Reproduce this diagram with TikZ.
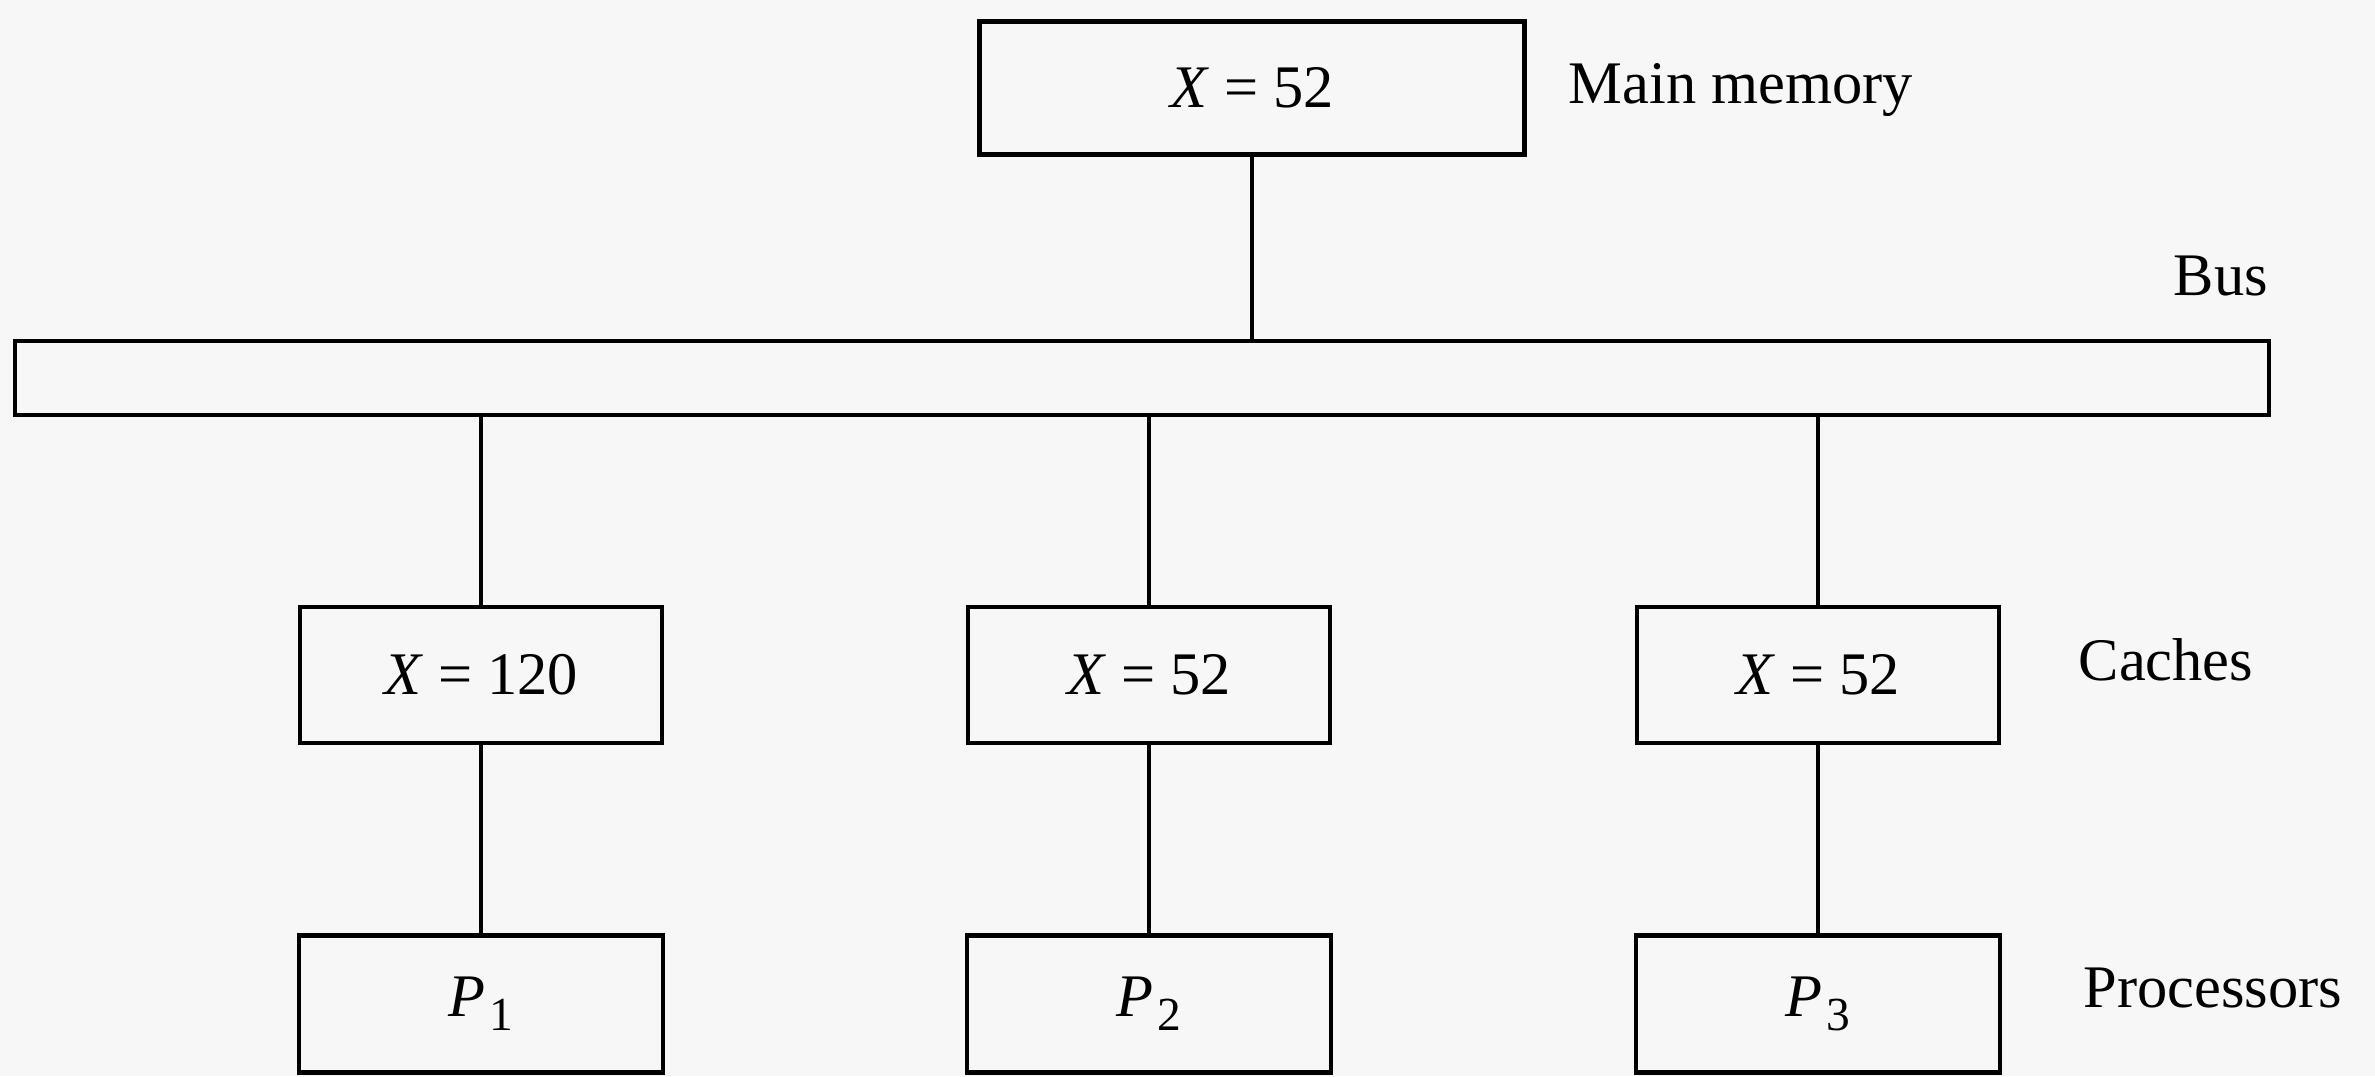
\documentclass[tikz,border=0pt]{standalone}
\usepackage{fontspec}
\setmainfont{Liberation Serif}
\usepackage{tikz}

\newcommand{\procname}[1]{\textit{P}\kern1pt\raisebox{-0.5ex}{\fontsize{13.5}{15}\selectfont #1}}

\begin{document}
\begin{tikzpicture}[
  box/.style={draw=black, line width=1.4pt, align=center, inner sep=0pt,
              font=\fontsize{17.2}{20}\selectfont},
  cachebox/.style={box, minimum width=3.62cm, minimum height=1.36cm},
  procbox/.style={box, minimum width=3.64cm, minimum height=1.37cm},
  lbl/.style={anchor=base west, inner sep=0pt, font=\fontsize{17.2}{20}\selectfont},
  wire/.style={line width=1.1pt, draw=black}
]
  % Page
  \fill[black!3] (0,0) rectangle (23.75,-10.76);
  \useasboundingbox (0,0) rectangle (23.75,-10.76);

  % Nodes
  \node[box, minimum width=5.45cm, minimum height=1.33cm] (mem) at (12.52,-0.88) {\textit{X} = 52};
  \node[box, minimum width=22.54cm, minimum height=0.74cm] (bus) at (11.42,-3.78) {};

  \node[cachebox] (c1) at (4.81,-6.75)  {\textit{X} = 120};
  \node[cachebox] (c2) at (11.49,-6.75) {\textit{X} = 52};
  \node[cachebox] (c3) at (18.18,-6.75) {\textit{X} = 52};

  \node[procbox] (p1) at (4.81,-10.04)  {\procname{1}};
  \node[procbox] (p2) at (11.49,-10.04) {\procname{2}};
  \node[procbox] (p3) at (18.18,-10.04) {\procname{3}};

  % Labels
  \node[lbl] (memlbl)  at (15.68,-1.03)  {Main memory};
  \node[lbl] (buslbl)  at (21.73,-2.95)  {Bus};
  \node[lbl] (cachelbl) at (20.78,-6.80) {Caches};
  \node[lbl] (proclbl) at (20.83,-10.07) {Processors};

  % Wires
  \draw[wire] (mem.south) -- (mem |- bus.north);
  \draw[wire] (c1 |- bus.south) -- (c1.north);
  \draw[wire] (c2 |- bus.south) -- (c2.north);
  \draw[wire] (c3 |- bus.south) -- (c3.north);
  \draw[wire] (c1.south) -- (p1.north);
  \draw[wire] (c2.south) -- (p2.north);
  \draw[wire] (c3.south) -- (p3.north);
\end{tikzpicture}
\end{document}
